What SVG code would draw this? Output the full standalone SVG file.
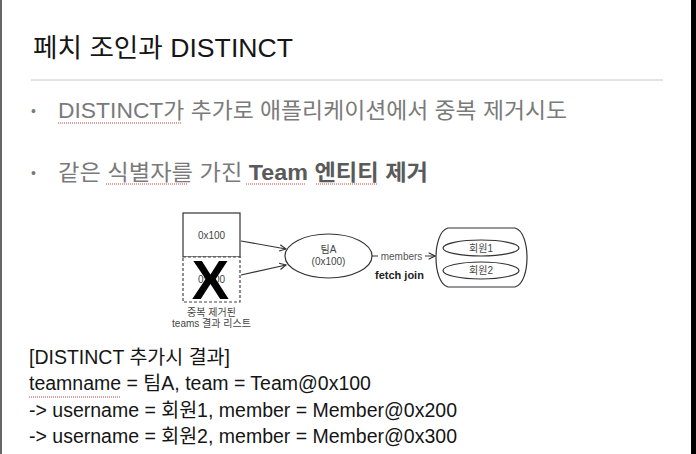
<svg xmlns="http://www.w3.org/2000/svg" width="696" height="454" viewBox="0 0 696 454">
<style>
.sans{font-family:"Liberation Sans","Noto Sans CJK KR",sans-serif}
.title{font-size:26px;fill:#151515}
.bul{font-size:22px;fill:#7a7a7a}
.dot{font-size:14px;fill:#7a7a7a}
.bold{font-weight:bold;fill:#5a5a5a}
.res{font-size:19.5px;fill:#151515}
.lbl{font-size:10px;fill:#444;text-anchor:middle}
.shape{fill:#fff;stroke:#333;stroke-width:1.2}
.conn{stroke:#333;stroke-width:1.1;fill:none}
.squig{stroke:#d04040;stroke-width:1;stroke-dasharray:1,1;fill:none}
</style>
<defs>
<marker id="arr" viewBox="0 0 10 10" refX="9" refY="5" markerWidth="8" markerHeight="8" orient="auto" markerUnits="userSpaceOnUse">
<path d="M1,1 L9,5 L1,9" fill="none" stroke="#333" stroke-width="1.4"/>
</marker>
</defs>
<rect x="0" y="0" width="696" height="454" fill="#fff"/>
<rect x="0" y="0" width="2" height="454" fill="#666"/>
<rect x="691" y="0" width="5" height="454" fill="#000"/>

<g id="header">
<text class="sans title" x="33" y="57" textLength="260" lengthAdjust="spacingAndGlyphs">페치 조인과 DISTINCT</text>
<line x1="31" y1="80" x2="663" y2="80" stroke="#c8c8c8" stroke-width="1"/>
</g>

<g id="bullets">
<text class="sans dot" x="31" y="116">•</text>
<text class="sans bul" x="58" y="118" textLength="509" lengthAdjust="spacingAndGlyphs">DISTINCT가 추가로 애플리케이션에서 중복 제거시도</text>
<path class="squig" d="M58,123 H181"/>
<text class="sans dot" x="31" y="178">•</text>
<text class="sans bul" x="58" y="180" textLength="370" lengthAdjust="spacingAndGlyphs">같은 식별자를 가진 <tspan class="bold">Team 엔티티 제거</tspan></text>
<path class="squig" d="M106,184 H188 M246,184 H306 M316,184 H377"/>
</g>

<g id="teams-list">
<rect class="shape" x="183" y="213" width="57" height="44"/>
<text class="sans lbl" x="211.5" y="239">0x100</text>
<rect x="183" y="257" width="57" height="45" fill="#fff" stroke="#444" stroke-width="1.2" stroke-dasharray="3,2"/>
<text class="sans lbl" x="211.5" y="283">0x100</text>
<text class="sans" x="210.5" y="299" font-size="56" font-weight="bold" text-anchor="middle" fill="#000">X</text>
<text class="sans lbl" x="211.5" y="316">중복 제거된</text>
<text class="sans lbl" x="211.5" y="327">teams 결과 리스트</text>
</g>

<g id="team-a">
<ellipse class="shape" cx="328.5" cy="256" rx="43.5" ry="22"/>
<text class="sans lbl" x="328.5" y="253">팀A</text>
<text class="sans lbl" x="328.5" y="265">(0x100)</text>
</g>

<g id="members">
<path class="shape" d="M448,228 H515 C531,232 531,283 515,287 H448 C432,283 432,232 448,228 Z"/>
<ellipse class="shape" cx="481" cy="248" rx="38" ry="8"/>
<text class="sans lbl" x="481" y="251.5">회원1</text>
<ellipse class="shape" cx="481" cy="270.5" rx="38" ry="8.5"/>
<text class="sans lbl" x="481" y="274">회원2</text>
</g>

<g id="connectors">
<line class="conn" x1="241" y1="241" x2="286" y2="249" marker-end="url(#arr)"/>
<line class="conn" x1="241" y1="275" x2="286" y2="265" marker-end="url(#arr)"/>
<line class="conn" x1="372" y1="256" x2="435" y2="256" marker-end="url(#arr)"/>
<rect x="378" y="249" width="47" height="14" fill="#fff"/>
<text class="sans" x="401.5" y="260" font-size="10" fill="#555" text-anchor="middle">members</text>
<text class="sans" x="375" y="279" font-size="11" font-weight="bold" fill="#222">fetch join</text>
</g>

<g id="result">
<text class="sans res" x="29" y="364">[DISTINCT 추가시 결과]</text>
<text class="sans res" x="29" y="390">teamname = 팀A, team = Team@0x100</text>
<path class="squig" d="M29,397 H120"/>
<text class="sans res" x="29" y="417">-&gt; username = 회원1, member = Member@0x200</text>
<text class="sans res" x="29" y="443">-&gt; username = 회원2, member = Member@0x300</text>
</g>
</svg>
